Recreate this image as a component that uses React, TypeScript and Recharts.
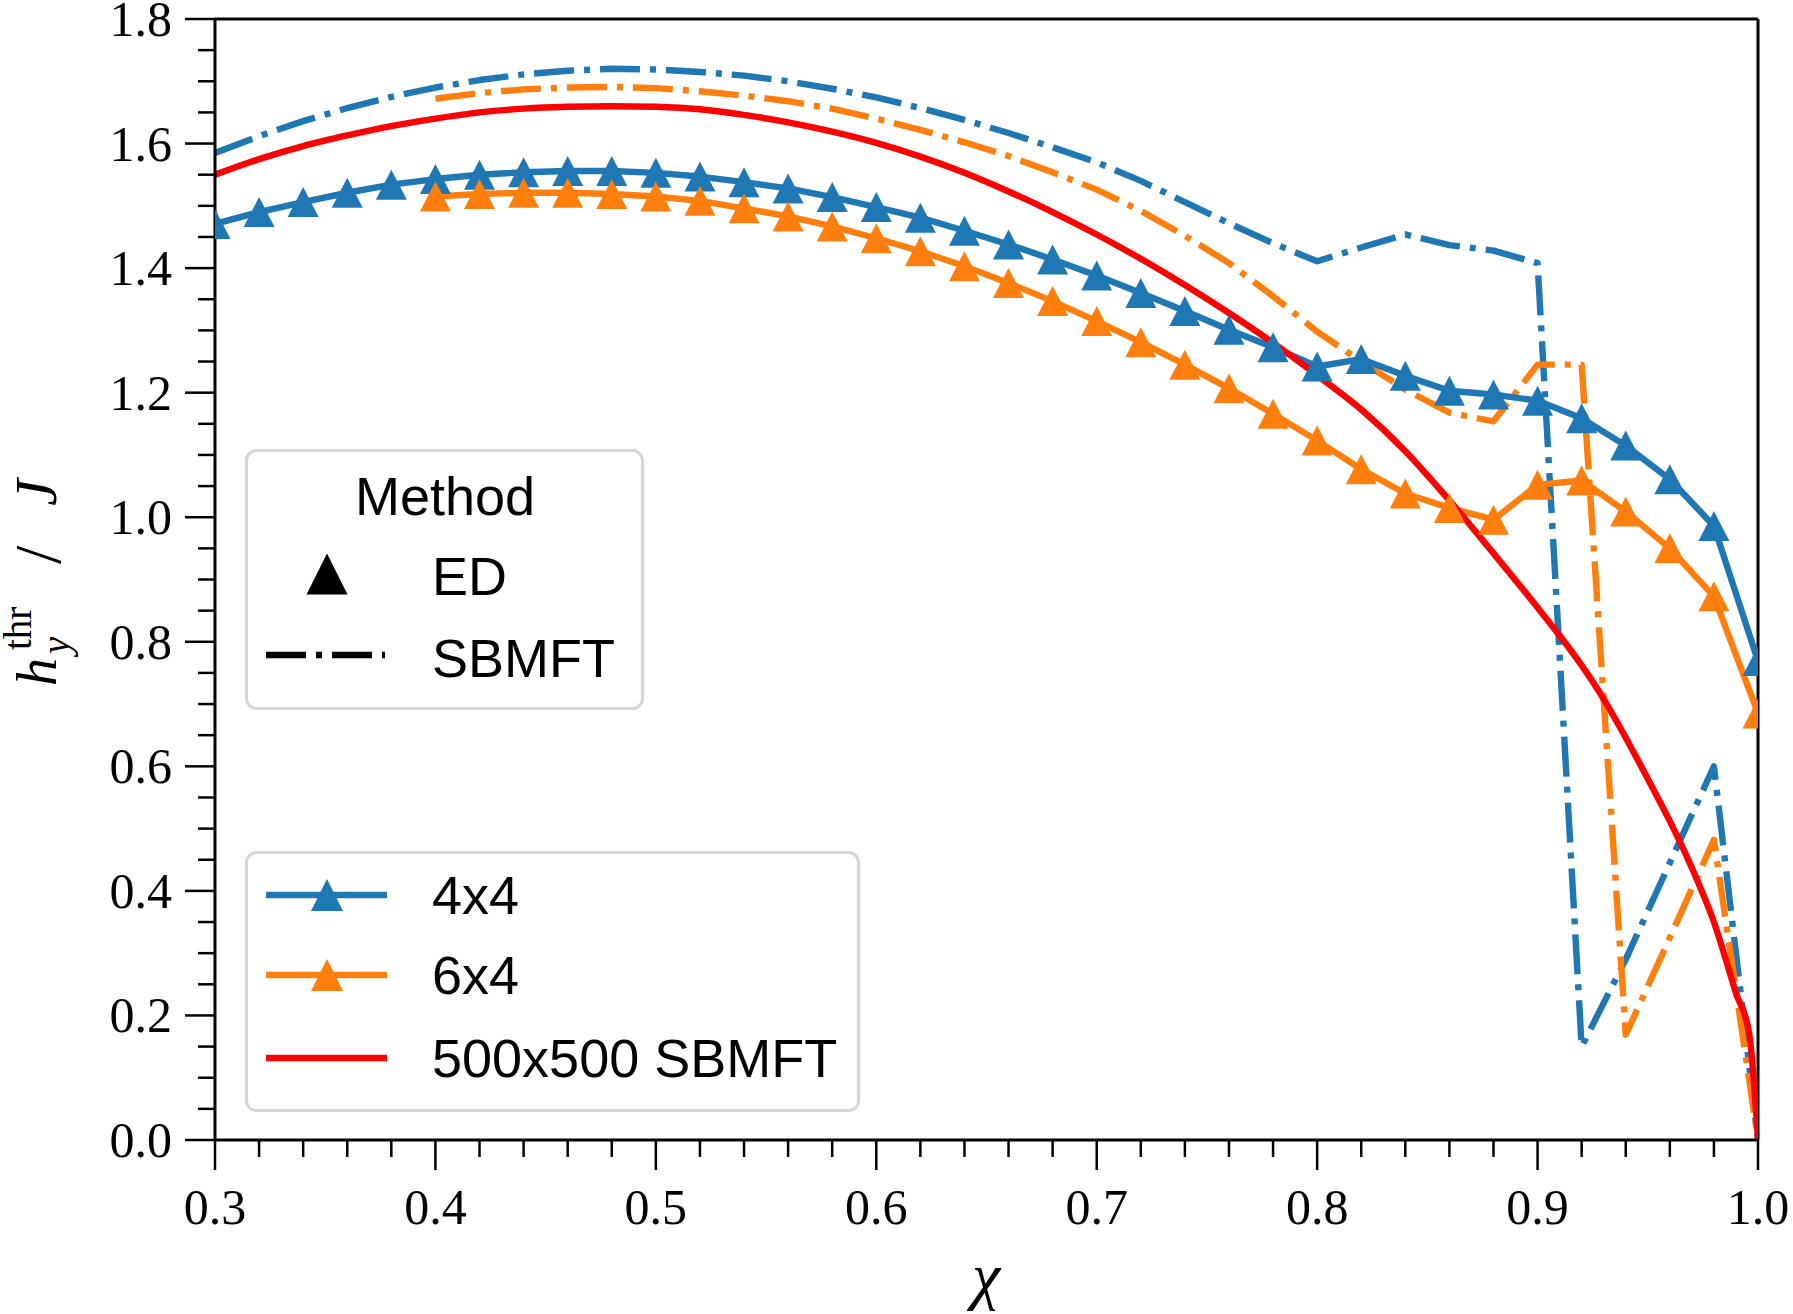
import React from 'react'
import { LineChart, Line, XAxis, YAxis, ReferenceLine } from 'recharts'

// chi grid for the 4x4 cluster (ED + SBMFT)
const chi4 = [
  0.3, 0.32, 0.34, 0.36, 0.38, 0.4, 0.42, 0.44, 0.46, 0.48, 0.5, 0.52, 0.54, 0.56, 0.58, 0.6, 0.62, 0.64,
  0.66, 0.68, 0.7, 0.72, 0.74, 0.76, 0.78, 0.8, 0.82, 0.84, 0.86, 0.88, 0.9, 0.92, 0.94, 0.96, 0.98, 1.0,
]
// chi grid for the 6x4 cluster
const chi6 = [
  0.4, 0.42, 0.44, 0.46, 0.48, 0.5, 0.52, 0.54, 0.56, 0.58, 0.6, 0.62, 0.64, 0.66, 0.68, 0.7, 0.72, 0.74,
  0.76, 0.78, 0.8, 0.82, 0.84, 0.86, 0.88, 0.9, 0.92, 0.94, 0.96, 0.98, 1.0,
]
const chiBig = [
  0.3, 0.32, 0.34, 0.36, 0.38, 0.4, 0.42, 0.44, 0.46, 0.48, 0.5, 0.52, 0.54, 0.56, 0.58, 0.6, 0.62, 0.64,
  0.66, 0.68, 0.7, 0.72, 0.74, 0.76, 0.78, 0.8, 0.82, 0.84, 0.86, 0.88, 0.9, 0.91, 0.92, 0.93, 0.94, 0.95,
  0.96, 0.97, 0.98, 0.99, 0.996, 1.0,
]

const ed4x4 = [
  1.471, 1.49, 1.506, 1.521, 1.534, 1.543, 1.55, 1.554, 1.556, 1.556, 1.553, 1.547, 1.538, 1.528, 1.514,
  1.498, 1.481, 1.46, 1.438, 1.414, 1.388, 1.36, 1.331, 1.301, 1.273, 1.242, 1.254, 1.227, 1.203, 1.197,
  1.187, 1.159, 1.115, 1.061, 0.986, 0.769,
]
const sb4x4 = [
  1.585, 1.612, 1.636, 1.657, 1.675, 1.69, 1.702, 1.711, 1.717, 1.72, 1.719, 1.715, 1.709, 1.7, 1.688,
  1.674, 1.657, 1.638, 1.617, 1.594, 1.57, 1.54, 1.506, 1.472, 1.44, 1.411, 1.433, 1.454, 1.437, 1.428,
  1.408, 0.15, 0.29, 0.445, 0.6, 0.0,
]
const ed6x4 = [
  1.515, 1.519, 1.521, 1.521, 1.519, 1.515, 1.508, 1.496, 1.483, 1.467, 1.448, 1.427, 1.403, 1.376, 1.347,
  1.315, 1.281, 1.245, 1.207, 1.166, 1.123, 1.077, 1.038, 1.015, 0.996, 1.052, 1.059, 1.009, 0.95, 0.873,
  0.685,
]
const sb6x4 = [
  1.672, 1.681, 1.687, 1.69, 1.691, 1.689, 1.684, 1.677, 1.668, 1.656, 1.64, 1.622, 1.602, 1.58, 1.554,
  1.526, 1.492, 1.452, 1.408, 1.355, 1.298, 1.25, 1.205, 1.168, 1.154, 1.245, 1.245, 0.169, 0.325, 0.482,
  0.0,
]
const sb500 = [
  1.55, 1.575, 1.596, 1.613, 1.628, 1.64, 1.65, 1.656, 1.659, 1.66, 1.659, 1.655, 1.646, 1.634, 1.619,
  1.601, 1.579, 1.553, 1.523, 1.49, 1.454, 1.415, 1.373, 1.328, 1.28, 1.228, 1.173, 1.106, 1.027, 0.942,
  0.855, 0.81, 0.762, 0.708, 0.646, 0.58, 0.512, 0.437, 0.35, 0.236, 0.171, 0.0,
]

const xTicks = chi4
const yTicks = [
  0, 0.05, 0.1, 0.15, 0.2, 0.25, 0.3, 0.35, 0.4, 0.45, 0.5, 0.55, 0.6, 0.65, 0.7, 0.75, 0.8, 0.85, 0.9,
  0.95, 1.0, 1.05, 1.1, 1.15, 1.2, 1.25, 1.3, 1.35, 1.4, 1.45, 1.5, 1.55, 1.6, 1.65, 1.7, 1.75, 1.8,
]

const BLUE = '#1f77b4'
const ORANGE = '#ff7f0e'
const RED = '#ff0000'
const LW = 6.4
const DASHDOT = '40 10 6 10'
const SERIF = '"Liberation Serif", serif'
const SANS = '"Liberation Sans", sans-serif'

const toRows = (xs: number[], ys: number[]) => xs.map((x, i) => ({ x, y: ys[i] }))

const isMultiple = (v: number, step: number) => Math.abs(v / step - Math.round(v / step)) < 1e-6

const triangle = (color: string) => (p: any) => {
  const { cx, cy, index } = p
  if (cx == null || cy == null) return <g key={`t${index}`} />
  return (
    <polygon
      key={`t${index}`}
      points={`${cx},${cy - 15} ${cx - 15.5},${cy + 15} ${cx + 15.5},${cy + 15}`}
      fill={color}
    />
  )
}

const XTick = (p: any) => {
  const { x, y, payload } = p
  const v = payload.value
  const major = isMultiple(v, 0.1)
  return (
    <g>
      <line x1={x} x2={x} y1={y} y2={y + (major ? 30 : 17)} stroke="#000" strokeWidth={2.5} />
      {major && (
        <text x={x} y={y + 84} textAnchor="middle" fontFamily={SERIF} fontSize={50} fill="#000">
          {v.toFixed(1)}
        </text>
      )}
    </g>
  )
}

const YTick = (p: any) => {
  const { x, y, payload } = p
  const v = payload.value
  const major = isMultiple(v, 0.2)
  return (
    <g>
      <line x1={x} x2={x - (major ? 30 : 17)} y1={y} y2={y} stroke="#000" strokeWidth={2.5} />
      {major && (
        <text x={x - 43} y={y + 17} textAnchor="end" fontFamily={SERIF} fontSize={50} fill="#000">
          {v.toFixed(1)}
        </text>
      )}
    </g>
  )
}

function Overlay() {
  const tri = (cx: number, cy: number, s: number) =>
    `${cx},${cy - s / 2} ${cx - s / 2},${cy + s / 2} ${cx + s / 2},${cy + s / 2}`
  return (
    <svg width={1793} height={1314} style={{ position: 'absolute', left: 0, top: 0, pointerEvents: 'none' }}>
      {/* axis titles */}
      <text x={986} y={1297} textAnchor="middle" fontFamily={SERIF} fontStyle="italic" fontSize={64}>
        χ
      </text>
      <g transform="translate(56,686) rotate(-90)" fontFamily={SERIF} fill="#000">
        <text x={0} y={0} fontStyle="italic" fontSize={56}>h</text>
        <text x={32} y={13} fontStyle="italic" fontSize={39}>y</text>
        <text x={36} y={-25} fontSize={39}>thr</text>
        <text x={122} y={4} fontSize={66}>/</text>
        <text x={180} y={0} fontStyle="italic" fontSize={60}>J</text>
      </g>

      {/* legend: method */}
      <g transform="translate(245,449)" fontFamily={SANS} fontSize={54} fill="#000">
        <rect x={1.5} y={1.5} width={396} height={258} rx={10} fill="#fff" fillOpacity={0.8} stroke="#d6d6d6" strokeWidth={3} />
        <text x={200} y={66} textAnchor="middle">Method</text>
        <polygon points={tri(82, 125, 41)} fill="#000" />
        <text x={187} y={146}>ED</text>
        <line x1={21} x2={140} y1={206} y2={206} stroke="#000" strokeWidth={LW} strokeDasharray={DASHDOT} />
        <text x={187} y={228}>SBMFT</text>
      </g>

      {/* legend: system size */}
      <g transform="translate(245,851)" fontFamily={SANS} fontSize={54} fill="#000">
        <rect x={1.5} y={1.5} width={612} height={258} rx={10} fill="#fff" fillOpacity={0.8} stroke="#d6d6d6" strokeWidth={3} />
        <line x1={21} x2={142} y1={44} y2={44} stroke={BLUE} strokeWidth={LW} />
        <polygon points={tri(82, 44, 32)} fill={BLUE} />
        <text x={187} y={63}>4x4</text>
        <line x1={21} x2={142} y1={124} y2={124} stroke={ORANGE} strokeWidth={LW} />
        <polygon points={tri(82, 124, 32)} fill={ORANGE} />
        <text x={187} y={143}>6x4</text>
        <line x1={21} x2={142} y1={207} y2={207} stroke={RED} strokeWidth={LW} />
        <text x={187} y={226}>500x500 SBMFT</text>
      </g>
    </svg>
  )
}

export default function App() {
  return (
    <div style={{ position: 'absolute', left: 0, top: 0, width: 1793, height: 1314, background: '#fff' }}>
      <LineChart width={1793} height={1314} margin={{ top: 19, right: 35, bottom: 0, left: 0 }}>
        <XAxis
          dataKey="x"
          type="number"
          domain={[0.3, 1.0]}
          allowDataOverflow
          ticks={xTicks}
          interval={0}
          height={174}
          tickSize={0}
          tickMargin={0}
          tickLine={false}
          axisLine={{ stroke: '#000', strokeWidth: 3 }}
          tick={<XTick />}
        />
        <YAxis
          type="number"
          domain={[0, 1.8]}
          allowDataOverflow
          ticks={yTicks}
          interval={0}
          width={215}
          tickSize={0}
          tickMargin={0}
          tickLine={false}
          axisLine={{ stroke: '#000', strokeWidth: 3 }}
          tick={<YTick />}
        />
        <ReferenceLine y={1.8} stroke="#000" strokeWidth={3} />
        <ReferenceLine x={1.0} stroke="#000" strokeWidth={3} />

        <Line data={toRows(chi4, sb4x4)} dataKey="y" stroke={BLUE} strokeWidth={LW} strokeDasharray={DASHDOT}
          strokeLinejoin="round" dot={false} activeDot={false} isAnimationActive={false} />
        <Line data={toRows(chi6, sb6x4)} dataKey="y" stroke={ORANGE} strokeWidth={LW} strokeDasharray={DASHDOT}
          strokeLinejoin="round" dot={false} activeDot={false} isAnimationActive={false} />
        <Line data={toRows(chi4, ed4x4)} dataKey="y" stroke={BLUE} strokeWidth={LW} strokeLinejoin="round"
          dot={triangle(BLUE)} activeDot={false} isAnimationActive={false} />
        <Line data={toRows(chi6, ed6x4)} dataKey="y" stroke={ORANGE} strokeWidth={LW} strokeLinejoin="round"
          dot={triangle(ORANGE)} activeDot={false} isAnimationActive={false} />
        <Line data={toRows(chiBig, sb500)} dataKey="y" type="monotone" stroke={RED} strokeWidth={LW}
          strokeLinejoin="round" dot={false} activeDot={false} isAnimationActive={false} />
      </LineChart>
      <Overlay />
    </div>
  )
}
